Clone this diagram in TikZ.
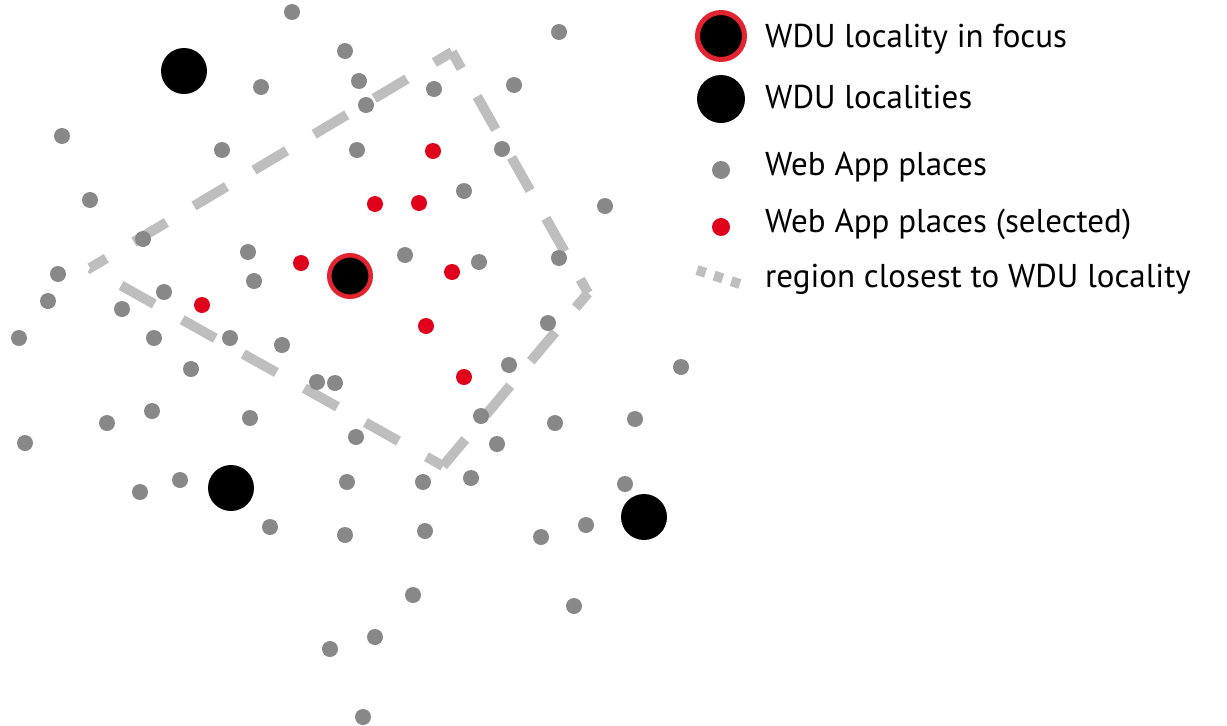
\documentclass[tikz,border=0pt]{standalone}
\usepackage{fontspec}
\setmainfont{PT Sans}
\definecolor{placegray}{HTML}{888888}
\definecolor{selred}{HTML}{E0001B}
\definecolor{ringred}{HTML}{E3242F}
\definecolor{regiongray}{HTML}{BEBEBE}
\begin{document}
\begin{tikzpicture}[x=1pt,y=-1pt,
  place/.style={circle,fill=placegray,inner sep=0pt,minimum size=16pt},
  chosen/.style={circle,fill=selred,inner sep=0pt,minimum size=16pt},
  locality/.style={circle,fill=black,inner sep=0pt,minimum size=46pt},
  focusloc/.style={circle,fill=black,draw=ringred,line width=4.5pt,inner sep=0pt,minimum size=41.5pt},
  region/.style={draw=regiongray,line width=10pt,dash pattern=on 38pt off 32pt,dash phase=19pt},
  keyregion/.style={draw=regiongray,line width=10pt,dash pattern=on 9pt off 9pt},
  keytext/.style={anchor=base west,inner sep=0pt,font=\fontsize{33}{40}\selectfont}
]
\useasboundingbox (0,0) rectangle (1227,726);

% region closest to the focus locality
\coordinate (regL) at (90,268);
\coordinate (regT) at (452,52);
\coordinate (regR) at (588,293);
\coordinate (regB) at (443,466);
\draw[region] (regL) -- (regT);
\draw[region] (regT) -- (regR);
\draw[region] (regR) -- (regB);
\draw[region] (regB) -- (regL);

% web app places
\foreach \n/\x/\y in {
  1/292/12, 2/345/51, 3/559/32, 4/261/87, 5/359/81, 6/434/89, 7/514/85,
  8/366/105, 9/62/136, 10/222/150, 11/357/150, 12/502/149, 13/464/191,
  14/90/200, 15/605/206, 16/143/239, 17/248/252, 18/405/255, 19/479/262,
  20/559/258, 21/58/274, 22/254/281, 23/48/301, 24/164/292, 25/122/309,
  26/548/323, 27/19/338, 28/154/338, 29/230/338, 30/282/345, 31/191/369,
  32/317/382, 33/335/383, 34/509/365, 35/681/367, 36/152/411, 37/250/418,
  38/107/423, 39/481/416, 40/635/419, 41/555/423, 42/25/443, 43/356/437,
  44/497/444, 45/140/492, 46/180/480, 47/347/482, 48/423/482, 49/471/478,
  50/625/484, 51/270/527, 52/345/535, 53/425/531, 54/541/537, 55/586/525,
  56/413/595, 57/574/606, 58/375/637, 59/330/649, 60/363/717}
  \node[place] (p\n) at (\x,\y) {};

% selected web app places
\foreach \n/\x/\y in {
  1/433/151, 2/375/204, 3/419/203, 4/301/263, 5/202/305, 6/452/272,
  7/426/326, 8/464/377}
  \node[chosen] (s\n) at (\x,\y) {};

% WDU localities
\node[locality] (loc1) at (184,71) {};
\node[locality] (loc2) at (231,488) {};
\node[locality] (loc3) at (644,517) {};
\node[focusloc] (focus) at (350,276) {};

% legend
\node[focusloc,line width=5pt,minimum size=47pt] (kfocus) at (721,36) {};
\node[locality,minimum size=48pt] (kloc) at (721,99) {};
\node[place,minimum size=18pt] (kplace) at (721,170) {};
\node[chosen,minimum size=18pt] (kchosen) at (721,227) {};
\coordinate (kregA) at (697,270);
\coordinate (kregB) at (743,285);
\draw[keyregion] (kregA) -- (kregB);

\node[keytext] (tfocus) at (765,47) {WDU locality in focus};
\node[keytext] (tloc) at (765,108) {WDU localities};
\node[keytext] (tplace) at (765,175) {Web App places};
\node[keytext] (tchosen) at (765,232) {Web App places (selected)};
\node[keytext] (tregion) at (765,287) {region closest to WDU locality};
\end{tikzpicture}
\end{document}
